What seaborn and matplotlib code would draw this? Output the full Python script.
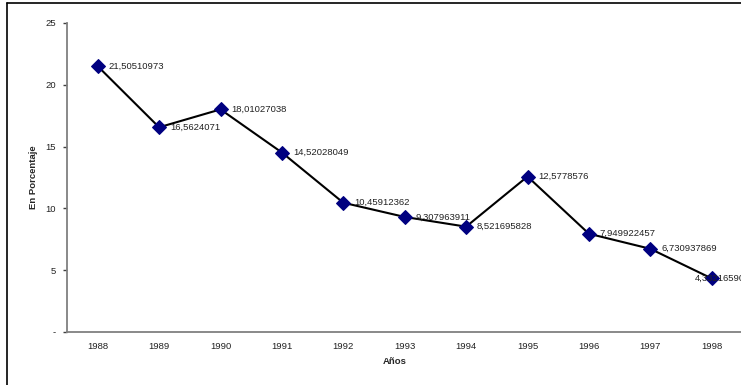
import matplotlib
matplotlib.use("Agg")
import matplotlib.pyplot as plt
from matplotlib.lines import Line2D
import seaborn as sns
import pandas as pd

years = ["1988", "1989", "1990", "1991", "1992", "1993", "1994", "1995", "1996", "1997", "1998"]
values = [21.50510973, 16.5624071, 18.01027038, 14.52028049, 10.45912362, 9.307963911,
          8.521695828, 12.5778576, 7.949922457, 6.730937869, 4.332165903]
yticks = [0, 5, 10, 15, 20, 25]
ytick_labels = ["-", "5", "10", "15", "20", "25"]

sns.set_style("white")
plt.rcParams["font.family"] = ["Liberation Sans", "DejaVu Sans"]

df = pd.DataFrame({"Años": years, "valor": values})

fig = plt.figure(figsize=(7.41, 3.85), dpi=100)
axw = 742.4 - 67
axh = 332 - 23
ax = fig.add_axes([67 / 741, 1 - 332 / 385, axw / 741, axh / 385])

sns.lineplot(data=df, x="Años", y="valor", ax=ax, color="black", linewidth=1.5,
             marker="D", markersize=7, markerfacecolor="#000080", markeredgecolor="#000080",
             sort=False, clip_on=False)

ax.set_xlim(-0.5, 10.5)
ax.set_ylim(0, 25)
ax.set_yticks(yticks)
ax.set_yticklabels(ytick_labels)
ax.set_xticks(range(len(years)))
ax.set_xticklabels(years)
ax.set_xticks([i + 0.5 for i in range(-1, len(years))], minor=True)

gray = "#808080"
for s in ["top", "right"]:
    ax.spines[s].set_visible(False)
for s in ["left", "bottom"]:
    ax.spines[s].set_color(gray)
    ax.spines[s].set_linewidth(1.3)

txtcol = "#222222"
ax.tick_params(axis="x", which="major", length=0, labelsize=6.8, pad=7, labelcolor=txtcol)
ax.tick_params(axis="x", which="minor", length=3, width=1, color="#404040", direction="out")
ax.tick_params(axis="y", which="major", length=3, width=1, color="#404040", direction="out",
               labelsize=6.8, pad=5, left=True, labelcolor=txtcol)

ax.set_xlabel("Años", fontsize=6.8, fontweight="bold")
ax.set_ylabel("En Porcentaje", fontsize=6.8, fontweight="bold")
ax.xaxis.set_label_coords((395 - 67) / axw, (332 - 362) / axh)
ax.yaxis.set_label_coords((33 - 67) / axw, 0.5)
ax.xaxis.label.set_va("center")
ax.yaxis.label.set_va("center")

for i, v in enumerate(values):
    label = ("%.10g" % v).replace(".", ",")
    dx = 11 if i < len(values) - 1 else -17
    ax.annotate(label, (i, v), xytext=(dx, 0), textcoords="offset pixels",
                ha="left", va="center", fontsize=6.8, color=txtcol, annotation_clip=False)

bx = 7 / 741
by = 1 - 3 / 385
fig.add_artist(Line2D([bx, bx], [-0.05, by], transform=fig.transFigure, color="black", linewidth=1.2))
fig.add_artist(Line2D([bx, 1.05], [by, by], transform=fig.transFigure, color="black", linewidth=1.2))

fig.savefig("out.png", dpi=100)
